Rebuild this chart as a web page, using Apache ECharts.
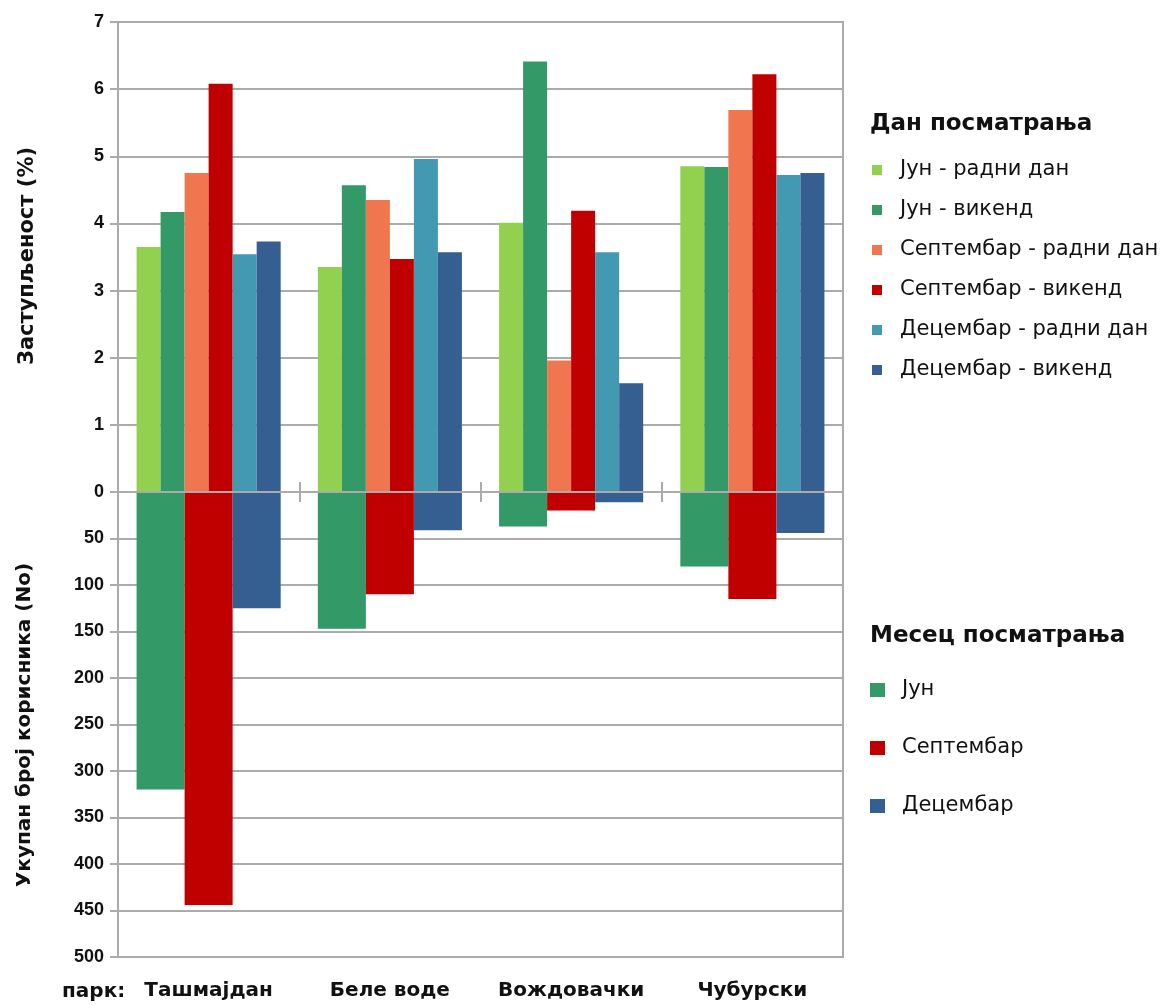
<!DOCTYPE html>
<html>
<head>
<meta charset="utf-8">
<script src="https://cdn.jsdelivr.net/npm/echarts@6/dist/echarts.min.js"></script>
<style>
html,body{margin:0;padding:0;background:#fff;}
#chart{width:1164px;height:1005px;}
</style>
</head>
<body>
<div id="chart"></div>
<script>
// ---- data ----
const categories = ['Ташмајдан', 'Беле воде', 'Вождовачки', 'Чубурски'];
const dayNames = ['Јун - радни дан', 'Јун - викенд', 'Септембар - радни дан', 'Септембар - викенд', 'Децембар - радни дан', 'Децембар - викенд'];
const junWork    = [3.65, 3.35, 4.01, 4.85];
const junWeekend = [4.17, 4.57, 6.41, 4.84];
const sepWork    = [4.75, 4.35, 1.96, 5.69];
const sepWeekend = [6.08, 3.47, 4.19, 6.22];
const decWork    = [3.54, 4.96, 3.57, 4.72];
const decWeekend = [3.73, 3.57, 1.62, 4.75];
const monthNames = ['Јун', 'Септембар', 'Децембар'];
const junUsers = [320, 147, 37, 80];
const sepUsers = [444, 110, 20, 115];
const decUsers = [125, 41, 11, 44];
const pctAxis = {min: 0, max: 7, interval: 1};
const usersAxis = {min: 0, max: 500, interval: 50};

// ---- styles ----
const dayColors = ['#92d050', '#339966', '#f07650', '#c00000', '#4399b1', '#355f91'];
const monthColors = ['#339966', '#c00000', '#355f91'];
const gridCol = '#ababab';
const txtFont = 'DejaVu Sans';
const tickFont = 'Liberation Sans';

const chart = echarts.init(document.getElementById('chart'), null, {renderer: 'canvas'});

const daySeriesData = [junWork, junWeekend, sepWork, sepWeekend, decWork, decWeekend];
const monthSeriesData = [junUsers, sepUsers, decUsers];

const series = [];
daySeriesData.forEach((d, i) => {
  series.push({
    name: dayNames[i], type: 'bar', xAxisIndex: 0, yAxisIndex: 0,
    data: d, barGap: '0%', barCategoryGap: '20.5%',
    itemStyle: {color: dayColors[i]}, emphasis: {disabled: true}
  });
});
monthSeriesData.forEach((d, i) => {
  series.push({
    name: monthNames[i], type: 'bar', xAxisIndex: 1, yAxisIndex: 1,
    data: d, barGap: '0%', barCategoryGap: '20.5%',
    itemStyle: {color: monthColors[i]}, emphasis: {disabled: true}
  });
});

const yLabel = {fontFamily: tickFont, fontWeight: 'bold', fontSize: 18, color: '#111', margin: 14};

chart.setOption({
  animation: false,
  backgroundColor: '#fff',
  title: [
    {text: 'Дан посматрања', left: 870, top: 113, padding: 0,
     textStyle: {fontFamily: txtFont, fontWeight: 'bold', fontSize: 23, color: '#111'}},
    {text: 'Месец посматрања', left: 870, top: 625, padding: 0,
     textStyle: {fontFamily: txtFont, fontWeight: 'bold', fontSize: 23, color: '#111'}}
  ],
  legend: [
    {data: dayNames, orient: 'vertical', left: 872, top: 158, padding: 0,
     itemWidth: 10, itemHeight: 10, itemGap: 16, icon: 'rect', selectedMode: false,
     textStyle: {fontFamily: txtFont, fontSize: 21, color: '#111', lineHeight: 24, padding: [0, 0, 0, 13]}},
    {data: monthNames, orient: 'vertical', left: 870, top: 678, padding: 0,
     itemWidth: 15, itemHeight: 14, itemGap: 34, icon: 'rect', selectedMode: false,
     textStyle: {fontFamily: txtFont, fontSize: 21, color: '#111', lineHeight: 24, padding: [0, 0, 0, 12]}}
  ],
  grid: [
    {left: 118, top: 22, width: 725, height: 470, show: true, borderColor: gridCol, borderWidth: 2, containLabel: false},
    {left: 118, top: 492, width: 725, height: 465, show: true, borderColor: gridCol, borderWidth: 2, containLabel: false}
  ],
  xAxis: [
    {type: 'category', gridIndex: 0, data: categories, position: 'bottom', z: 10,
     axisLine: {show: true, lineStyle: {color: gridCol, width: 2}},
     axisTick: {show: true, length: 10, alignWithLabel: false, lineStyle: {color: gridCol, width: 2}},
     axisLabel: {show: false}, splitLine: {show: false}},
    {type: 'category', gridIndex: 1, data: categories, position: 'top', z: 10,
     axisLine: {show: true, lineStyle: {color: gridCol, width: 2}},
     axisTick: {show: true, length: 10, alignWithLabel: false, lineStyle: {color: gridCol, width: 2}},
     axisLabel: {show: false}, splitLine: {show: false}},
    {type: 'category', gridIndex: 1, data: categories, position: 'bottom',
     axisLine: {show: false}, axisTick: {show: false}, splitLine: {show: false},
     axisLabel: {show: true, interval: 0, margin: 24, fontFamily: txtFont, fontWeight: 'bold', fontSize: 20, color: '#111'}}
  ],
  yAxis: [
    {type: 'value', gridIndex: 0, min: pctAxis.min, max: pctAxis.max, interval: pctAxis.interval,
     axisLine: {show: true, lineStyle: {color: gridCol, width: 2}},
     axisTick: {show: true, length: 8, lineStyle: {color: gridCol, width: 2}},
     axisLabel: yLabel,
     splitLine: {show: true, lineStyle: {color: gridCol, width: 2}}},
    {type: 'value', gridIndex: 1, inverse: true, min: usersAxis.min, max: usersAxis.max, interval: usersAxis.interval,
     axisLine: {show: true, lineStyle: {color: gridCol, width: 2}},
     axisTick: {show: true, length: 8, lineStyle: {color: gridCol, width: 2}},
     axisLabel: Object.assign({}, yLabel, {showMinLabel: false}),
     splitLine: {show: true, lineStyle: {color: gridCol, width: 2}}}
  ],
  graphic: [
    {type: 'text', x: 28, y: 256, rotation: Math.PI / 2,
     style: {text: 'Заступљеност (%)', align: 'center', verticalAlign: 'middle',
             font: 'bold 21px "DejaVu Sans"', fill: '#111'}},
    {type: 'text', x: 25, y: 725, rotation: Math.PI / 2,
     style: {text: 'Укупан број корисника (No)', align: 'center', verticalAlign: 'middle',
             font: 'bold 20px "DejaVu Sans"', fill: '#111'}},
    {type: 'text', x: 62, y: 992,
     style: {text: 'парк:', align: 'left', verticalAlign: 'middle',
             font: 'bold 20px "DejaVu Sans"', fill: '#111'}}
  ],
  series: series
});
</script>
</body>
</html>
